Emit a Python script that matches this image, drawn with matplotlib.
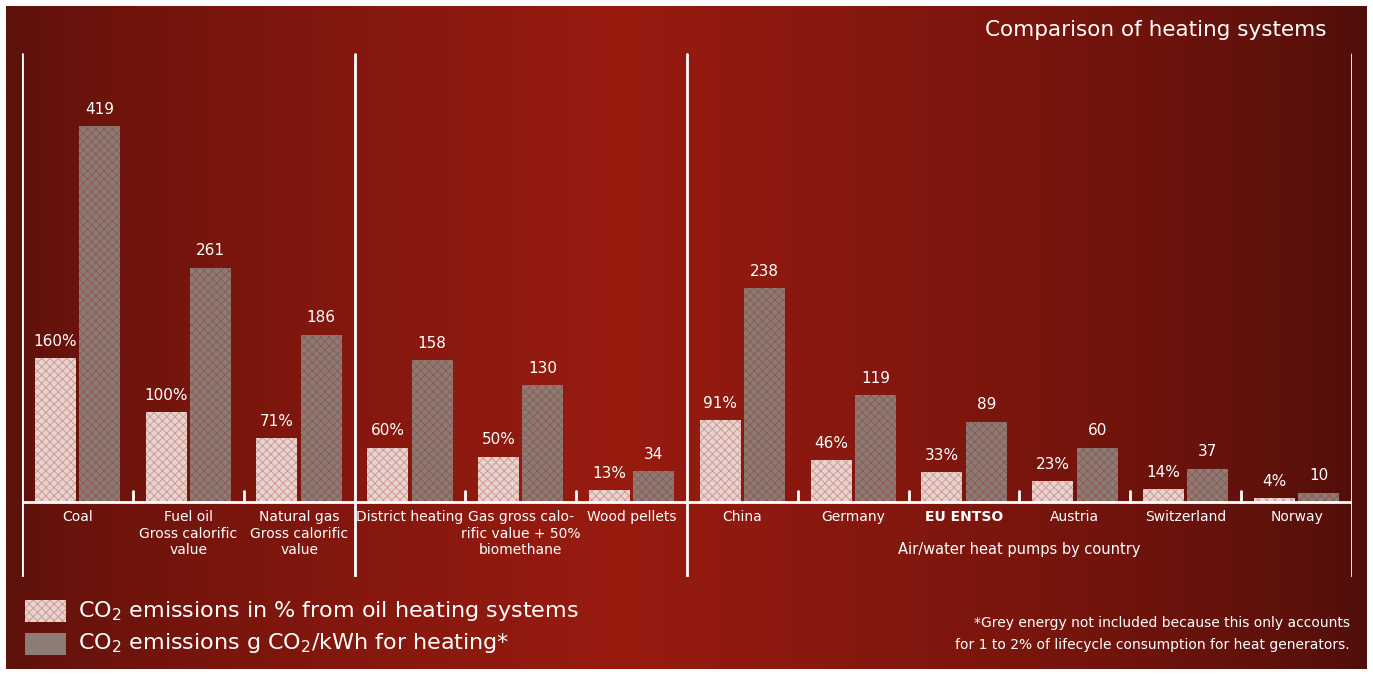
import numpy as np
import matplotlib.pyplot as plt
from matplotlib.patches import Rectangle

# data
categories = ["Coal", "Fuel oil\nGross calorific\nvalue", "Natural gas\nGross calorific\nvalue",
              "District heating", "Gas gross calo-\nrific value + 50%\nbiomethane", "Wood pellets",
              "China", "Germany", "EU ENTSO", "Austria", "Switzerland", "Norway"]
pct_values = [160, 100, 71, 60, 50, 13, 91, 46, 33, 23, 14, 4]
g_values = [419, 261, 186, 158, 130, 34, 238, 119, 89, 60, 37, 10]
separators = [2.5, 5.5]

plt.rcParams['font.family'] = ['DejaVu Sans']
plt.rcParams['hatch.linewidth'] = 0.7

W, H = 1373, 675
fig = plt.figure(figsize=(W / 100, H / 100), dpi=100, facecolor='white')

# background gradient (dark edges, bright red left of centre)
bg = fig.add_axes([6 / W, 6 / H, 1361 / W, 663 / H])
xs = np.linspace(0, 1, 600)
c_left = np.array([0x5c, 0x11, 0x0b]) / 255
c_mid = np.array([0x98, 0x1b, 0x10]) / 255
c_right = np.array([0x4e, 0x0e, 0x0a]) / 255
t = np.where(xs < 0.45, xs / 0.45, (1 - xs) / 0.55)
base = np.where(xs[:, None] < 0.45, c_left, c_right)
grad = base + (c_mid - base) * (t[:, None] ** 0.7)
bg.imshow(grad[None, :, :], aspect='auto', extent=[0, 1, 0, 1])
bg.set_axis_off()

# main axes: x from -0.5..11.5, baseline at y=0
ax = fig.add_axes([22 / W, 1 - 577 / H, 1330 / W, 527 / H])
ax.patch.set_alpha(0)
ax.set_xlim(-0.5, 11.5)
ax.set_ylim(-84, 504)
ax.set_axis_off()

x = np.arange(len(categories))
w = 0.37
ax.bar(x - 0.2, pct_values, w, color='#e8d5d1', edgecolor='#d09a94', hatch='xxxx', linewidth=0, zorder=2)
ax.bar(x + 0.2, g_values, w, color='#8c7c76', edgecolor='#8f5c53', hatch='xxxx', linewidth=0, zorder=2)

for i in x:
    ax.text(i - 0.2, pct_values[i] + 19, f"{pct_values[i]}%", ha='center', va='center',
            color='white', fontsize=11)
    ax.text(i + 0.2, g_values[i] + 19, f"{g_values[i]}", ha='center', va='center',
            color='white', fontsize=11)
    ax.text(i, -9, categories[i], ha='center', va='top', color='white', fontsize=10,
            linespacing=1.25, fontweight='bold' if categories[i] == "EU ENTSO" else 'normal')

lc = dict(color='white', lw=2, solid_capstyle='round', zorder=3)
ax.axhline(0, **lc)
for sx in [-0.5] + separators + [11.5]:
    ax.plot([sx, sx], [-83, 500], **lc)
for b in np.arange(0.5, 11, 1):
    if b not in separators:
        ax.plot([b, b], [0, 12], **lc)

ax.text(8.5, -53, "Air/water heat pumps by country", ha='center', va='center',
        color='white', fontsize=10.5)

fig.text(1156 / W, 1 - 30 / H, "Comparison of heating systems", ha='center', va='center',
         color='white', fontsize=15.5)

# legend
fig.patches.append(Rectangle((25 / W, 1 - 622 / H), 41 / W, 22 / H, transform=fig.transFigure,
                             facecolor='#e8d5d1', edgecolor='#d09a94', hatch='xxxx', linewidth=0))
fig.patches.append(Rectangle((25 / W, 1 - 655 / H), 41 / W, 22 / H, transform=fig.transFigure,
                             facecolor='#8c7c76', edgecolor='#8c7c76', linewidth=0))
fig.text(78 / W, 1 - 611 / H, "CO$_2$ emissions in % from oil heating systems", ha='left',
         va='center', color='white', fontsize=16)
fig.text(78 / W, 1 - 643 / H, "CO$_2$ emissions g CO$_2$/kWh for heating*", ha='left',
         va='center', color='white', fontsize=16)

fig.text(1350 / W, 1 - 623 / H, "*Grey energy not included because this only accounts",
         ha='right', va='center', color='white', fontsize=10)
fig.text(1350 / W, 1 - 645 / H, "for 1 to 2% of lifecycle consumption for heat generators.",
         ha='right', va='center', color='white', fontsize=10)

fig.savefig("out.png", dpi=100, facecolor='white')
